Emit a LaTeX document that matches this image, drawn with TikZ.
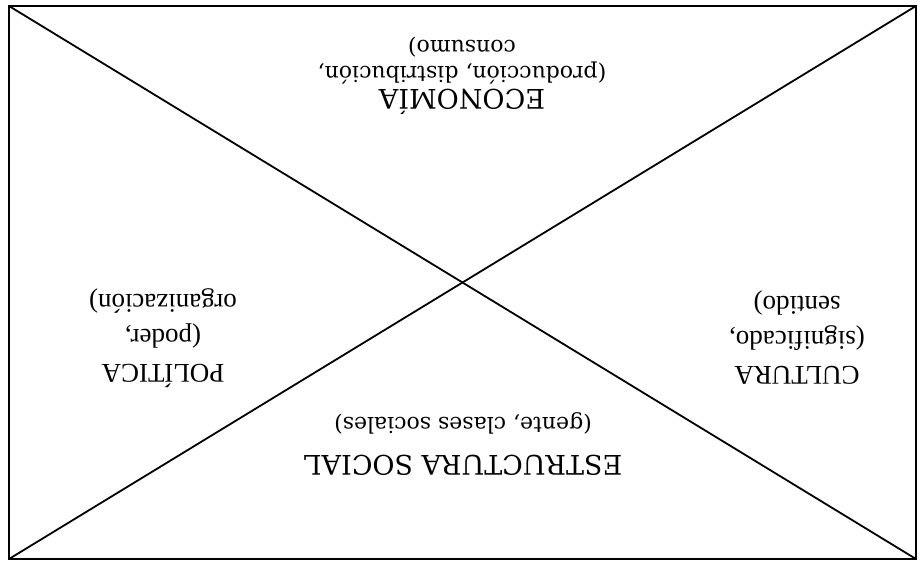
\documentclass[tikz,border=0pt]{standalone}
\usepackage{fontspec}
\setmainfont{Liberation Serif}[Ligatures=NoCommon]
\newfontfamily\wideserif{DejaVu Serif}
\begin{document}
\begin{tikzpicture}[x=1pt,y=-1pt,line width=1.8pt,
  lbl/.style={rotate=180,align=center,inner sep=0pt},
  head/.style={font=\wideserif\fontsize{27}{32}\selectfont},
  sub/.style={font=\wideserif\fontsize{22}{26}\selectfont},
  narrow/.style={font=\fontsize{27}{35}\selectfont}]
\useasboundingbox (0,0) rectangle (920,565);
\coordinate (tl) at (9,6);
\coordinate (tr) at (916,6);
\coordinate (bl) at (9,559);
\coordinate (br) at (916,559);
\draw (tl) rectangle (br);
\draw (tl) -- (br);
\draw (bl) -- (tr);
\node[lbl,head] (ecoh) at (462,102) {ECONOMÍA};
\node[lbl,sub] (ecos) at (462,61) {(producción, distribución,\\consumo)};
\node[lbl,head] (esth) at (463,465) {ESTRUCTURA SOCIAL};
\node[lbl,sub] (ests) at (463,423) {(gente, clases sociales)};
\node[lbl,narrow] (pol) at (163,338) {POLÍTICA\\(poder,\\organización)};
\node[lbl,narrow] (cul) at (797,338) {CULTURA\\(significado,\\sentido)};
\end{tikzpicture}
\end{document}
